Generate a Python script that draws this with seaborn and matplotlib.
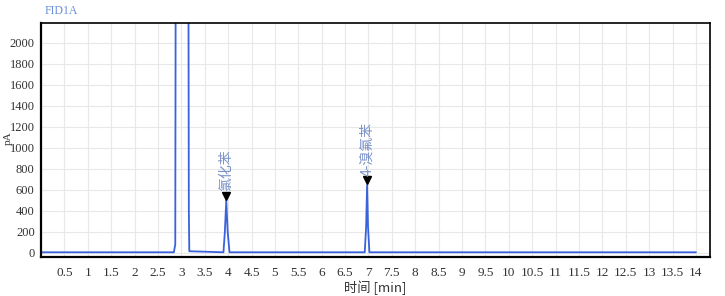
import matplotlib
matplotlib.use("Agg")
import matplotlib.pyplot as plt
import seaborn as sns
import pandas as pd

# chromatogram trace (time in min, signal in pA)
time_min = [0.0, 2.84, 2.87, 2.88, 3.15, 3.16, 3.17, 3.90, 3.93, 3.96, 3.99, 4.03,
            6.92, 6.95, 6.97, 6.99, 7.02, 14.0]
signal_pa = [5, 5, 80, 3000, 3000, 400, 15, 5, 200, 500, 200, 5,
             5, 250, 645, 250, 5, 5]

peak_names = ["氯化苯", "4-溴氟苯"]
peak_times = [3.96, 6.97]
peak_heights = [500, 645]

x_ticks = [0.5, 1, 1.5, 2, 2.5, 3, 3.5, 4, 4.5, 5, 5.5, 6, 6.5, 7, 7.5, 8, 8.5, 9,
           9.5, 10, 10.5, 11, 11.5, 12, 12.5, 13, 13.5, 14]
y_ticks = [0, 200, 400, 600, 800, 1000, 1200, 1400, 1600, 1800, 2000]

sns.set_theme(style="white")
plt.rcParams["font.family"] = ["Liberation Serif", "Noto Sans CJK SC", "DejaVu Sans"]

fig = plt.figure(figsize=(7.25, 2.96), dpi=100)
ax = fig.add_axes([41 / 725, 1 - 257 / 296, (710 - 41) / 725, (257 - 23) / 296])

df = pd.DataFrame({"t": time_min, "s": signal_pa})
sns.lineplot(data=df, x="t", y="s", ax=ax, color="#3a62dc", linewidth=1.3,
             estimator=None, sort=False)

ax.set_xlim(0, 14.3)
ax.set_ylim(-40, 2190)
ax.set_xticks(x_ticks)
ax.set_xticklabels(["%g" % v for v in x_ticks], fontsize=9.5)
ax.set_yticks(y_ticks)
ax.set_yticklabels([str(v) for v in y_ticks], fontsize=9)
ax.grid(True, color="#e8e8e8", linewidth=0.8)
ax.set_axisbelow(True)
ax.tick_params(axis="both", direction="out", length=4, width=1, color="black",
               labelcolor="#333333")
ax.tick_params(axis="y", length=3.5, pad=1)
ax.tick_params(axis="x", pad=3)
for side in ["left", "bottom"]:
    ax.spines[side].set_linewidth(1.6)
    ax.spines[side].set_color("black")
for side in ["top", "right"]:
    ax.spines[side].set_linewidth(1.2)
    ax.spines[side].set_color("black")

for name, t, h in zip(peak_names, peak_times, peak_heights):
    ax.plot([t], [h + 45], marker="v", color="black", markersize=6, linestyle="none")
    ax.text(t, h + 85, name, rotation=90, ha="center", va="bottom", fontsize=10,
            color="#7b93c8", family=["Noto Sans CJK SC", "DejaVu Sans"])

ax.set_xlabel("时间 [min]", fontsize=9.5, color="#333333", labelpad=1,
              family=["Noto Sans CJK SC", "DejaVu Sans"])
ax.set_ylabel("pA", fontsize=8, color="#333333")
ax.yaxis.set_label_coords(-0.0425, 0.508)
fig.text(45 / 725, 1 - 11 / 296, "FID1A", fontsize=8.5, color="#6b8ed8",
         va="center", ha="left")

fig.savefig("out.png", dpi=100, facecolor="white")
